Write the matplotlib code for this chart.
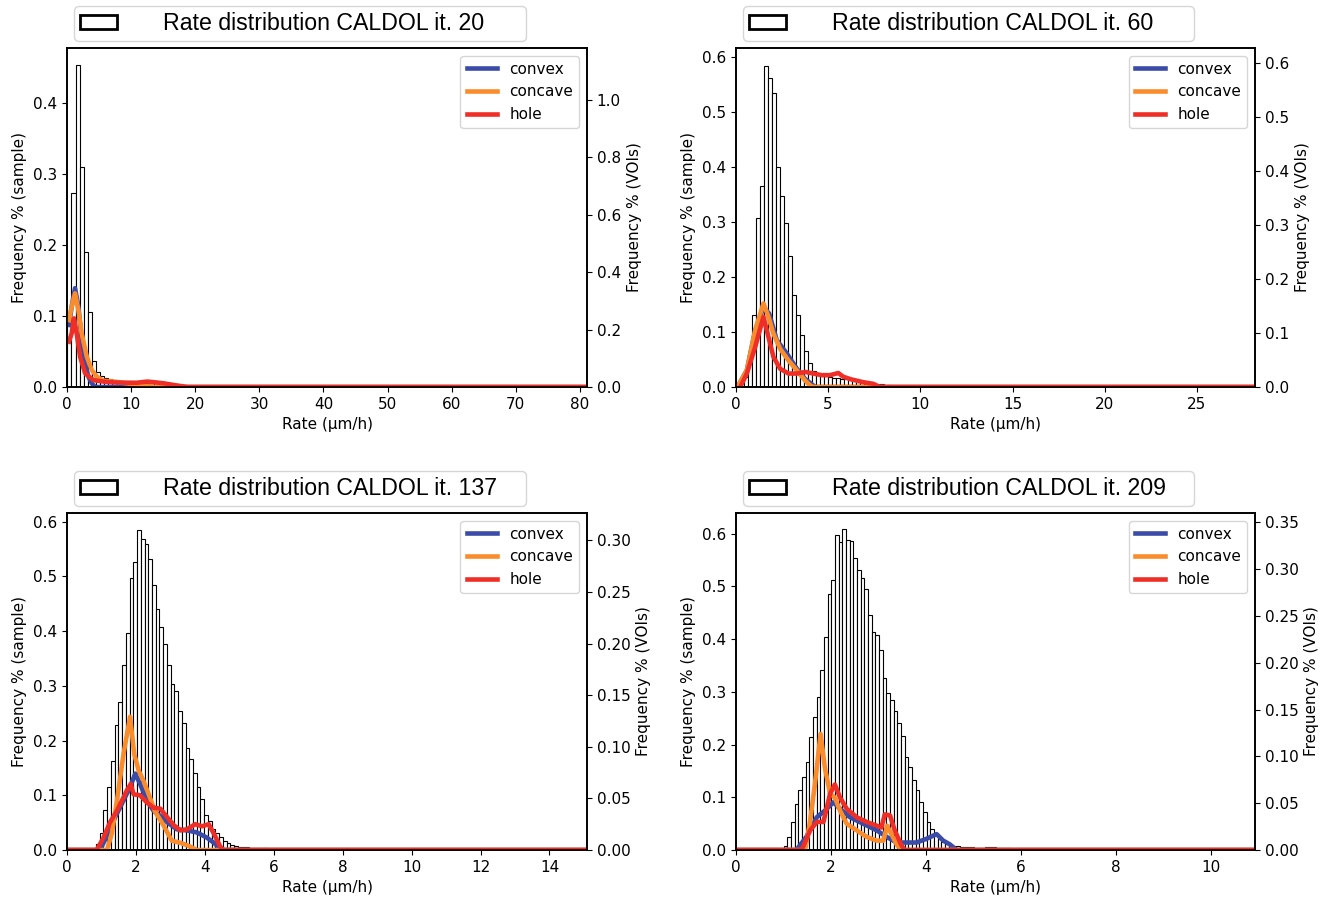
import numpy as np
import matplotlib
matplotlib.use("Agg")
import matplotlib.pyplot as plt
from matplotlib.patches import Patch

# ---- data ----
ITERATIONS = [20, 60, 137, 209]

# histogram of sample rates (left axis): first bin edge, bin width, heights
HIST_START = [0.05, 0.41, 0.842, 1.0]
HIST_WIDTH = [0.64, 0.2176, 0.1082, 0.0772]
HIST_1 = [0.090, 0.273, 0.453, 0.309, 0.190, 0.105, 0.037, 0.021, 0.015, 0.013,
          0.011, 0.010, 0.009, 0.009, 0.008, 0.008, 0.007, 0.007, 0.006, 0.006,
          0.006, 0.005, 0.005, 0.004, 0.004, 0.003, 0.003, 0.002, 0.002, 0.002,
          0.001, 0.001, 0.001]
HIST_2 = [0.018, 0.044, 0.132, 0.308, 0.366, 0.585, 0.562, 0.536, 0.401, 0.348,
          0.299, 0.238, 0.167, 0.131, 0.094, 0.065, 0.044, 0.030, 0.024, 0.023,
          0.021, 0.019, 0.017, 0.016, 0.015, 0.014, 0.013, 0.012, 0.011, 0.010,
          0.009, 0.008, 0.007, 0.006, 0.005, 0.004, 0.003, 0.002, 0.002, 0.001,
          0.001]
HIST_3 = [0.011, 0.031, 0.074, 0.116, 0.163, 0.228, 0.271, 0.339, 0.397, 0.497,
          0.526, 0.584, 0.569, 0.559, 0.532, 0.485, 0.440, 0.407, 0.377, 0.339,
          0.303, 0.291, 0.254, 0.233, 0.187, 0.166, 0.140, 0.116, 0.093, 0.064,
          0.053, 0.038, 0.032, 0.023, 0.016, 0.012, 0.010, 0.008, 0.006, 0.005,
          0.005, 0.004, 0.004, 0.003, 0.003, 0.003, 0.002, 0.002, 0.002, 0.002,
          0.002, 0.001, 0.001, 0.001, 0.001, 0.001]
HIST_4 = [0.008, 0.024, 0.053, 0.087, 0.114, 0.138, 0.166, 0.214, 0.252, 0.291,
          0.341, 0.404, 0.486, 0.511, 0.597, 0.584, 0.608, 0.587, 0.586, 0.554,
          0.530, 0.516, 0.494, 0.445, 0.413, 0.407, 0.380, 0.327, 0.297, 0.285,
          0.263, 0.241, 0.217, 0.176, 0.157, 0.133, 0.113, 0.091, 0.072, 0.053,
          0.040, 0.030, 0.021, 0.016, 0.011, 0.009, 0.008, 0.007, 0.006, 0.006,
          0.005, 0.005, 0.004, 0.004, 0.004, 0.005, 0.005, 0.005, 0.004, 0.004,
          0.003, 0.003, 0.002, 0.002, 0.002, 0.001, 0.001, 0.001]

# VOI rate distributions (right axis)
CONVEX_X_1 = [0.31, 0.73, 1.25, 1.77, 2.29, 2.82, 3.34, 3.86, 4.38, 81.1]
CONVEX_Y_1 = [0.216, 0.28, 0.344, 0.28, 0.164, 0.082, 0.036, 0.013, 0.0, 0.0]
CONCAVE_X_1 = [0.31, 0.73, 1.25, 1.77, 2.29, 3.08, 3.86, 4.64, 5.69, 7.25, 9.34, 11.4, 13.5, 81.1]
CONCAVE_Y_1 = [0.233, 0.28, 0.326, 0.268, 0.187, 0.106, 0.059, 0.036, 0.022, 0.019, 0.013, 0.007, 0.0, 0.0]
HOLE_X_1 = [0.31, 0.73, 1.1, 1.51, 2.03, 2.82, 4.12, 5.69, 7.25, 9.34, 10.9, 12.5, 13.5, 15.1, 16.7, 18.8, 81.1]
HOLE_Y_1 = [0.158, 0.187, 0.239, 0.187, 0.106, 0.048, 0.024, 0.019, 0.016, 0.015, 0.015, 0.019, 0.017, 0.013, 0.007, 0.0, 0.0]

CONVEX_X_2 = [0.08, 0.59, 1.04, 1.49, 1.8, 2.21, 2.76, 3.3, 3.75, 4.3, 28.15]
CONVEX_Y_2 = [0.0, 0.031, 0.105, 0.148, 0.136, 0.087, 0.062, 0.034, 0.015, 0.0, 0.0]
CONCAVE_X_2 = [0.08, 0.59, 1.04, 1.49, 1.76, 2.03, 2.39, 2.85, 3.3, 3.75, 4.02, 4.2, 28.15]
CONCAVE_Y_2 = [0.0, 0.031, 0.105, 0.155, 0.13, 0.099, 0.071, 0.049, 0.031, 0.012, 0.003, 0.0, 0.0]
HOLE_X_2 = [0.23, 0.59, 1.04, 1.49, 1.76, 2.03, 2.39, 2.85, 3.3, 3.75, 4.2, 4.65, 5.1,
            5.55, 5.82, 6.27, 6.9, 7.44, 7.8, 28.15]
HOLE_Y_2 = [0.0, 0.025, 0.074, 0.13, 0.093, 0.056, 0.034, 0.025, 0.025, 0.028, 0.025, 0.022, 0.022,
            0.026, 0.019, 0.014, 0.009, 0.006, 0.0, 0.0]

CONVEX_X_3 = [0.0, 0.96, 1.16, 1.4, 1.64, 1.83, 1.98, 2.12, 2.32, 2.51, 2.71, 2.9, 3.19,
              3.48, 3.77, 4.06, 4.26, 4.45, 4.55, 15.09]
CONVEX_Y_3 = [0.0, 0.0, 0.014, 0.032, 0.048, 0.061, 0.074, 0.064, 0.048, 0.038, 0.033, 0.027, 0.02,
              0.019, 0.017, 0.012, 0.007, 0.001, 0.0, 0.0]
CONCAVE_X_3 = [0.0, 1.16, 1.3, 1.45, 1.64, 1.83, 1.95, 2.08, 2.22, 2.37, 2.56, 2.8, 3.04,
               3.29, 3.53, 3.77, 15.09]
CONCAVE_Y_3 = [0.0, 0.0, 0.016, 0.048, 0.093, 0.129, 0.093, 0.077, 0.067, 0.054, 0.037, 0.024, 0.009,
               0.007, 0.004, 0.0, 0.0]
HOLE_X_3 = [0.0, 0.86, 1.06, 1.25, 1.45, 1.64, 1.74, 1.85, 1.93, 2.12, 2.32, 2.51, 2.71, 2.9,
            3.1, 3.29, 3.48, 3.72, 3.92, 4.11, 4.26, 4.45, 4.55, 15.09]
HOLE_Y_3 = [0.0, 0.0, 0.012, 0.027, 0.038, 0.051, 0.058, 0.064, 0.054, 0.053, 0.046, 0.041, 0.04, 0.032,
            0.024, 0.019, 0.02, 0.025, 0.023, 0.025, 0.016, 0.003, 0.0, 0.0]

CONVEX_X_4 = [0.0, 1.27, 1.48, 1.7, 1.87, 2.05, 2.19, 2.4, 2.68, 2.96, 3.17, 3.38, 3.59,
              3.8, 4.01, 4.22, 4.36, 4.5, 4.64, 10.92]
CONVEX_Y_4 = [0.0, 0.0, 0.014, 0.035, 0.042, 0.051, 0.044, 0.035, 0.028, 0.021, 0.014, 0.008, 0.008,
              0.008, 0.012, 0.017, 0.01, 0.006, 0.0, 0.0]
CONCAVE_X_4 = [0.0, 1.455, 1.56, 1.66, 1.78, 1.87, 1.98, 2.08, 2.19, 2.33, 2.54, 2.75, 2.96,
               3.1, 3.18, 3.27, 3.38, 3.48, 10.92]
CONCAVE_Y_4 = [0.0, 0.0, 0.031, 0.07, 0.124, 0.088, 0.06, 0.056, 0.042, 0.028, 0.021, 0.014, 0.01,
               0.01, 0.026, 0.017, 0.006, 0.0, 0.0]
HOLE_X_4 = [0.0, 1.38, 1.56, 1.7, 1.84, 1.98, 2.08, 2.19, 2.33, 2.54, 2.75, 2.96, 3.06,
            3.13, 3.24, 3.34, 3.48, 3.55, 10.92]
HOLE_Y_4 = [0.0, 0.0, 0.021, 0.03, 0.03, 0.06, 0.07, 0.056, 0.044, 0.035, 0.03, 0.026, 0.024,
            0.038, 0.037, 0.021, 0.005, 0.0, 0.0]

HISTS = [HIST_1, HIST_2, HIST_3, HIST_4]
CONVEX = [(CONVEX_X_1, CONVEX_Y_1), (CONVEX_X_2, CONVEX_Y_2), (CONVEX_X_3, CONVEX_Y_3), (CONVEX_X_4, CONVEX_Y_4)]
CONCAVE = [(CONCAVE_X_1, CONCAVE_Y_1), (CONCAVE_X_2, CONCAVE_Y_2), (CONCAVE_X_3, CONCAVE_Y_3), (CONCAVE_X_4, CONCAVE_Y_4)]
HOLE = [(HOLE_X_1, HOLE_Y_1), (HOLE_X_2, HOLE_Y_2), (HOLE_X_3, HOLE_Y_3), (HOLE_X_4, HOLE_Y_4)]

XMAX = [81.1, 28.15, 15.09, 10.92]
YMAX_LEFT = [0.477, 0.617, 0.616, 0.639]
YMAX_RIGHT = [1.18, 0.628, 0.3265, 0.36]

# axes positions in figure fraction (left, bottom, width, height)
POSITIONS = [
    (0.0502, 0.5728, 0.3895, 0.3742),
    (0.5513, 0.5728, 0.3888, 0.3742),
    (0.0502, 0.0618, 0.3895, 0.3720),
    (0.5513, 0.0618, 0.3888, 0.3720),
]

C_CONVEX = '#3a4ca8'
C_CONCAVE = '#fb8c2b'
C_HOLE = '#ef2f27'

plt.rcParams['font.family'] = 'DejaVu Sans'
plt.rcParams['font.size'] = 11
plt.rcParams['axes.linewidth'] = 1.2

fig = plt.figure(figsize=(13.35, 9.06), dpi=100)

for i in range(4):
    ax = fig.add_axes(POSITIONS[i])
    heights = np.array(HISTS[i])
    edges = HIST_START[i] + HIST_WIDTH[i] * np.arange(len(heights))
    ax.bar(edges, heights, width=HIST_WIDTH[i], align='edge',
           facecolor='white', edgecolor='black', linewidth=0.8)
    ax.set_xlim(0, XMAX[i])
    ax.set_ylim(0, YMAX_LEFT[i])
    ax.set_xlabel('Rate (µm/h)')
    ax.set_ylabel('Frequency % (sample)')

    ax2 = ax.twinx()
    ax2.plot(*CONVEX[i], color=C_CONVEX, lw=3.3, label='convex')
    ax2.plot(*CONCAVE[i], color=C_CONCAVE, lw=3.3, label='concave')
    ax2.plot(*HOLE[i], color=C_HOLE, lw=3.3, label='hole')
    ax2.set_ylim(0, YMAX_RIGHT[i])
    ax2.set_ylabel('Frequency % (VOIs)')
    ax2.legend(loc='upper right', fontsize=11, handlelength=2.0)

    # histogram legend used as a title above the plot
    handle = Patch(facecolor='white', edgecolor='black', linewidth=2)
    ax.legend([handle], [f'Rate distribution CALDOL it. {ITERATIONS[i]}'],
              loc='lower left', bbox_to_anchor=(0.0, 1.0, 0.896, 0.1),
              mode='expand', borderaxespad=0.3, borderpad=0.25,
              handletextpad=2.0, handlelength=1.6, handleheight=0.55,
              prop={'family': 'Liberation Sans', 'size': 16.7})

fig.savefig('out.png', dpi=100)
